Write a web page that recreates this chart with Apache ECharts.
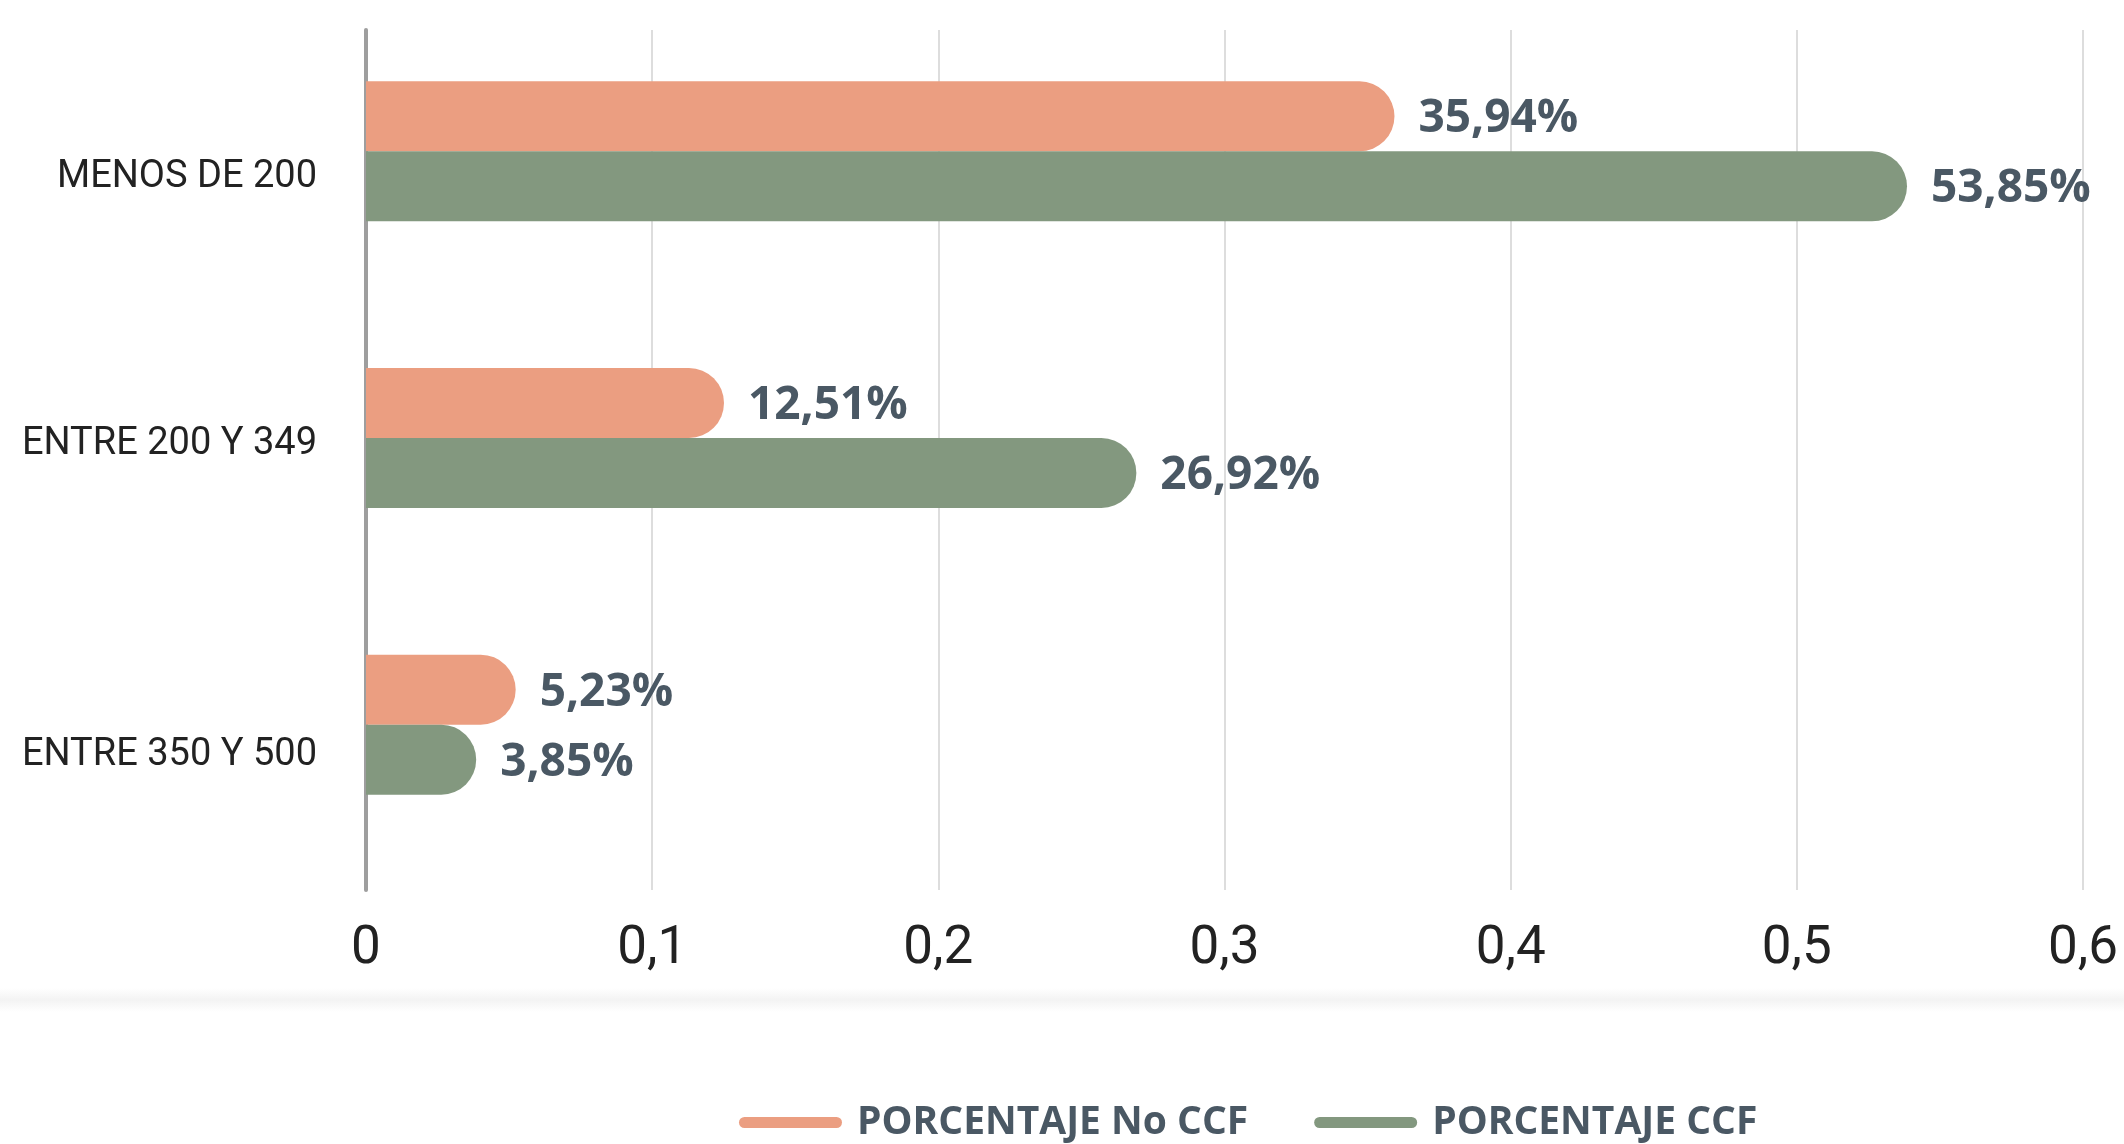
<!DOCTYPE html>
<html>
<head>
<meta charset="utf-8">
<script src="https://cdn.jsdelivr.net/npm/echarts@6/dist/echarts.min.js"></script>
<style>html,body{margin:0;padding:0;background:#fff}#c{width:2124px;height:1144px}</style>
</head>
<body>
<div id="c"></div>
<script>
const categories = ['MENOS DE 200', 'ENTRE 200 Y 349', 'ENTRE 350 Y 500'];
const noCcfValues = [0.3594, 0.1251, 0.0523];
const ccfValues = [0.5385, 0.2692, 0.0385];
const xTicks = [0, 0.1, 0.2, 0.3, 0.4, 0.5, 0.6];
const seriesNames = ['PORCENTAJE No CCF', 'PORCENTAJE CCF'];

const orange = '#EB9E81';
const green = '#83987F';
const labelColor = '#4a5864';

const chart = echarts.init(document.getElementById('c'), null, {renderer: 'canvas'});
const fmtPct = v => (v * 100).toFixed(2).replace('.', ',') + '%';
const valueLabel = {
  show: true, position: 'right', distance: 24, offset: [0, 3],
  fontFamily: 'Open Sans', fontWeight: 'bold', fontSize: 46, color: labelColor,
  formatter: p => fmtPct(p.value)
};
const legendIcon = 'path://M5.5,0H97.5A5.5,5.5,0,0,1,97.5,11H5.5A5.5,5.5,0,0,1,5.5,0Z';
const catLabelStyle = {fontFamily: 'Roboto', fontSize: 38, color: '#222'};

chart.setOption({
  animation: false,
  backgroundColor: '#fff',
  graphic: [{
    type: 'rect', left: 0, top: 988, silent: true,
    shape: {width: 2124, height: 24},
    style: {fill: new echarts.graphic.LinearGradient(0, 0, 0, 1, [
      {offset: 0, color: 'rgba(242,242,242,0)'},
      {offset: 0.5, color: 'rgba(242,242,242,0.9)'},
      {offset: 1, color: 'rgba(242,242,242,0)'}
    ])}
  }],
  grid: {left: 366, right: 41, top: 30, bottom: 254, containLabel: false},
  legend: {
    data: seriesNames.map(n => ({name: n, icon: legendIcon})),
    left: 734, top: 1098,
    itemWidth: 103, itemHeight: 11, itemGap: 66,
    textStyle: {fontFamily: 'Open Sans', fontWeight: 'bold', fontSize: 39, color: labelColor, padding: [0, 0, 0, 10]}
  },
  xAxis: {
    type: 'value', min: xTicks[0], max: xTicks[xTicks.length - 1], interval: 0.1,
    axisLine: {show: false}, axisTick: {show: false},
    splitLine: {show: true, lineStyle: {color: '#d2d2d2', width: 1.5}},
    axisLabel: {
      margin: 33, fontFamily: 'Roboto', fontSize: 53, color: '#222',
      formatter: v => String(+v.toFixed(1)).replace('.', ',')
    }
  },
  yAxis: {
    type: 'category', data: categories, inverse: true,
    axisLine: {show: true, lineStyle: {color: '#9e9e9e', width: 4}},
    axisTick: {show: false},
    splitLine: {show: false},
    axisLabel: {
      margin: 49, fontFamily: 'Roboto', fontSize: 38, color: '#222',
      formatter: (v, i) => '{c' + i + '|' + v + '}',
      rich: {
        c0: Object.assign({padding: [8, 0, 0, 0]}, catLabelStyle),
        c1: Object.assign({padding: [0, 0, 32, 0]}, catLabelStyle),
        c2: Object.assign({padding: [18, 0, 0, 0]}, catLabelStyle)
      }
    }
  },
  series: [
    {
      name: seriesNames[0], type: 'bar', data: noCcfValues, barWidth: 70, barGap: '0%',
      itemStyle: {color: orange, borderRadius: [0, 35, 35, 0]}, label: valueLabel
    },
    {
      name: seriesNames[1], type: 'bar', data: ccfValues, barWidth: 70, barGap: '0%',
      itemStyle: {color: green, borderRadius: [0, 35, 35, 0]}, label: valueLabel
    },
    {
      name: 'spacer', type: 'bar', data: ['-', '-', '-'], barWidth: 44, barGap: '0%',
      itemStyle: {color: 'rgba(0,0,0,0)'}, label: {show: false}, silent: true
    }
  ]
});
</script>
</body>
</html>
